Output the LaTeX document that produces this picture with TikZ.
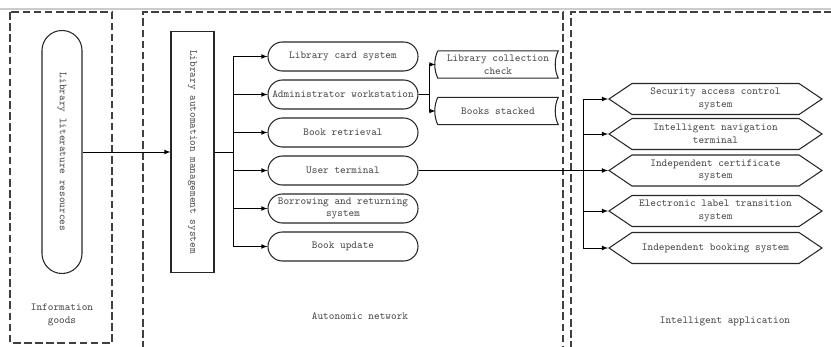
\documentclass[tikz,border=0pt]{standalone}
\usetikzlibrary{shapes.misc,shapes.symbols}
\begin{document}
\begin{tikzpicture}[x=0.03cm,y=-0.03cm,>=latex]
      \tikzstyle{txt} = [font=\fontsize{9.2}{10.8}\selectfont\ttfamily, text=black!70, align=center, inner sep=0pt]
      \tikzstyle{snode} = [txt, rounded rectangle, draw=black!85, line width=0.9pt, minimum width=4.5cm, minimum height=0.87cm]
      \tikzstyle{tnode} = [txt, minimum width=3.6cm, minimum height=0.8cm]
      \tikzstyle{hnode} = [txt, signal, signal to=east and west, signal pointer angle=68, draw=black!85, line width=0.9pt, minimum width=6.39cm, minimum height=0.93cm]
      \tikzstyle{panel} = [draw=black!75, line width=1.1pt, dash pattern=on 6.5pt off 3pt]
      \tikzstyle{conn} = [line width=0.8pt]
      \useasboundingbox (0,0) rectangle (831,347);
      \clip (0,0) rectangle (831,347);
      \draw[black!20, line width=2.4pt] (0,9) -- (831,9);

      % three dashed panels
      \draw[panel] (10,12) rectangle (112,343);
      \draw[panel] (143,360) -- (143,12) -- (563,12) -- (563,360);
      \draw[panel] (571,360) -- (571,12) -- (840,12);

      \node[snode, rotate=-90, minimum width=7.29cm, minimum height=1.2cm] (lit) at (62,152) {Library literature resources};
      \node[txt, draw=black!85, line width=0.9pt, rotate=-90, minimum width=7.23cm, minimum height=1.29cm] (lams) at (192.5,152) {Library automation management system};

      \node[snode] (card) at (343,56.5) {Library card system};
      \node[snode] (admin) at (343,94.5) {Administrator workstation};
      \node[snode] (retr) at (343,132.5) {Book retrieval};
      \node[snode] (user) at (343,170.5) {User terminal};
      \node[snode] (borrow) at (343,208.5) {Borrowing and returning\\system};
      \node[snode] (update) at (343,246.5) {Book update};

      \node[tnode] (check) at (498,64.5) {Library collection\\check};
      \node[tnode] (stack) at (498,111) {Books stacked};
      \draw[draw=black!85, line width=0.9pt] (check.north west) -- (check.north east) .. controls +(-4,8) and +(-4,-8) .. (check.south east) -- (check.south west) .. controls +(-4,-8) and +(-4,8) .. (check.north west);
      \draw[draw=black!85, line width=0.9pt] (stack.north west) -- (stack.north east) .. controls +(-4,8) and +(-4,-8) .. (stack.south east) -- (stack.south west) .. controls +(-4,-8) and +(-4,8) .. (stack.north west);

      \node[hnode] (sec) at (715.5,99) {Security access control\\system};
      \node[hnode] (nav) at (715.5,134) {Intelligent navigation\\terminal};
      \node[hnode] (cert) at (715.5,170.5) {Independent certificate\\system};
      \node[hnode] (elec) at (715.5,211) {Electronic label transition\\system};
      \node[hnode] (booking) at (715.5,248) {Independent booking system};

      \node[txt] (info) at (62,315) {Information\\goods};
      \node[txt] (auto) at (360,316) {Autonomic network};
      \node[txt] (intel) at (725,321) {Intelligent application};

      \draw[conn, ->] (lit.north) -- (lams.south);
      \coordinate (t1) at (233,152);
      \draw[conn] (lams.north) -- (t1);
      \draw[conn] (t1|-card.west) -- (t1|-update.west);
      \draw[conn, ->] (t1|-card.west) -- (card.west);
      \draw[conn, ->] (t1|-admin.west) -- (admin.west);
      \draw[conn, ->] (t1|-retr.west) -- (retr.west);
      \draw[conn, ->] (t1|-user.west) -- (user.west);
      \draw[conn, ->] (t1|-borrow.west) -- (borrow.west);
      \draw[conn, ->] (t1|-update.west) -- (update.west);

      \coordinate (t2) at (429,94.5);
      \draw[conn] (admin.east) -- (t2);
      \draw[conn] (t2|-check.west) -- (t2|-stack.west);
      \draw[conn, ->] (t2|-check.west) -- ([xshift=-2pt]check.west);
      \draw[conn, ->] (t2|-stack.west) -- ([xshift=-2pt]stack.west);

      \coordinate (t3) at (583,170.5);
      \draw[conn, ->] (user.east) -- (cert.west);
      \draw[conn] (t3|-sec.west) -- (t3|-booking.west);
      \draw[conn, ->] (t3|-sec.west) -- (sec.west);
      \draw[conn, ->] (t3|-nav.west) -- (nav.west);
      \draw[conn, ->] (t3|-elec.west) -- (elec.west);
      \draw[conn, ->] (t3|-booking.west) -- (booking.west);
    \end{tikzpicture}
\end{document}
